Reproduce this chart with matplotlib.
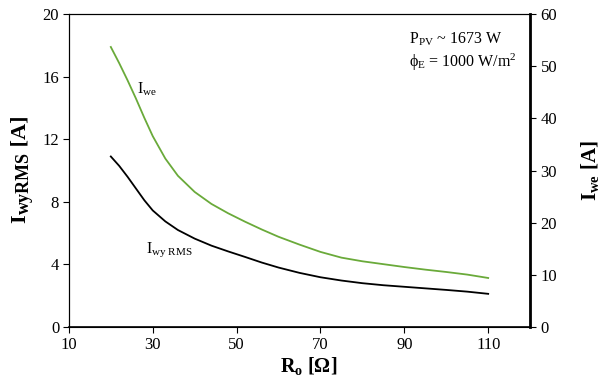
#!/usr/bin/env python3
import matplotlib
matplotlib.use("Agg")
import matplotlib.pyplot as plt
import matplotlib.transforms as mtransforms
import numpy as np

plt.rcParams["font.family"] = "Liberation Serif"
plt.rcParams["mathtext.fontset"] = "custom"
plt.rcParams["mathtext.rm"] = "Liberation Serif"
plt.rcParams["mathtext.it"] = "Liberation Serif:italic"
plt.rcParams["mathtext.bf"] = "Liberation Serif:bold"

color_green = "#6aaa3a"
color_black = "#000000"

# load resistance R_o [ohm]
r_o = [20, 22, 24, 26, 28, 30, 33, 36, 40, 44, 48, 52,
       56, 60, 65, 70, 75, 80, 85, 90, 95, 100, 105, 110]
# output RMS current (left axis)
i_wy = [10.9, 10.3, 9.6, 8.85, 8.1, 7.45, 6.75, 6.2, 5.65, 5.2, 4.83, 4.48,
        4.12, 3.8, 3.46, 3.18, 2.97, 2.8, 2.67, 2.57, 2.47, 2.37, 2.26, 2.12]
# input current (right axis)
i_we = [53.7, 50.6, 47.3, 43.8, 40.1, 36.6, 32.3, 29.0, 25.9, 23.6, 21.8, 20.2,
        18.7, 17.3, 15.8, 14.4, 13.3, 12.6, 12.05, 11.5, 11.0, 10.55, 10.05, 9.4]


def vertical_label(fig, x, y, parts):
    # parts: (text, fontsize, baseline shift) drawn bottom to top, in pixels
    px = mtransforms.IdentityTransform()
    renderer = fig.canvas.get_renderer()
    for s, size, shift in parts:
        t = fig.text(x + shift, y, s, rotation=90, rotation_mode="anchor",
                     ha="left", va="baseline", fontsize=size,
                     fontweight="bold", transform=px)
        bb = t.get_window_extent(renderer)
        y = bb.y1


def main():
    fig = plt.figure(figsize=(5.99, 3.82), dpi=100)
    ax = fig.add_axes([0.115, 0.144, 0.77, 0.819])
    ax2 = ax.twinx()

    ax.plot(r_o, i_wy, color=color_black, lw=1.3, solid_joinstyle="round")
    ax2.plot(r_o, i_we, color=color_green, lw=1.3, solid_joinstyle="round")

    ax.set_xlim(10, 120)
    ax.set_ylim(0, 20)
    ax2.set_ylim(0, 60)
    ax.set_xticks(np.arange(10, 111, 20))
    ax.set_yticks(np.arange(0, 21, 4))
    ax2.set_yticks(np.arange(0, 61, 10))

    for a in (ax, ax2):
        a.tick_params(labelsize=12, length=4, width=0.8, direction="out")
    ax.tick_params(axis="y", pad=3)
    ax2.spines["right"].set_linewidth(2)
    ax.spines["bottom"].set_linewidth(1.2)

    ax.set_xlabel(r"$\mathbf{R_o}$ [$\mathbf{\Omega}$]", fontsize=14.5,
                  fontweight="bold")
    ax.xaxis.set_label_coords(0.52, -0.09)
    ax2.set_ylabel(r"$\mathbf{I_{we}}$ [A]", fontsize=15,
                   fontweight="bold")
    ax2.yaxis.set_label_coords(1.105, 0.5)

    fig.canvas.draw()
    vertical_label(fig, 25, 382 - 223,
                   [("I", 16, 0), ("wyRMS", 13, 4), (" [A]", 16, 0)])

    ax.text(26.2, 14.95, r"I$_{\mathrm{we}}$", fontsize=11.5)
    ax.text(28.4, 4.73, r"I$_{\mathrm{wy\ RMS}}$", fontsize=11.5)
    ax.text(91.1, 18.1, r"P$_{\mathrm{PV}}$ ~ 1673 W", fontsize=11.5)
    ax.text(91.1, 16.6, r"ϕ$_{\mathrm{E}}$ = 1000 W/m$^{2}$", fontsize=11.5)

    fig.savefig("out.png", dpi=100)


if __name__ == "__main__":
    main()
